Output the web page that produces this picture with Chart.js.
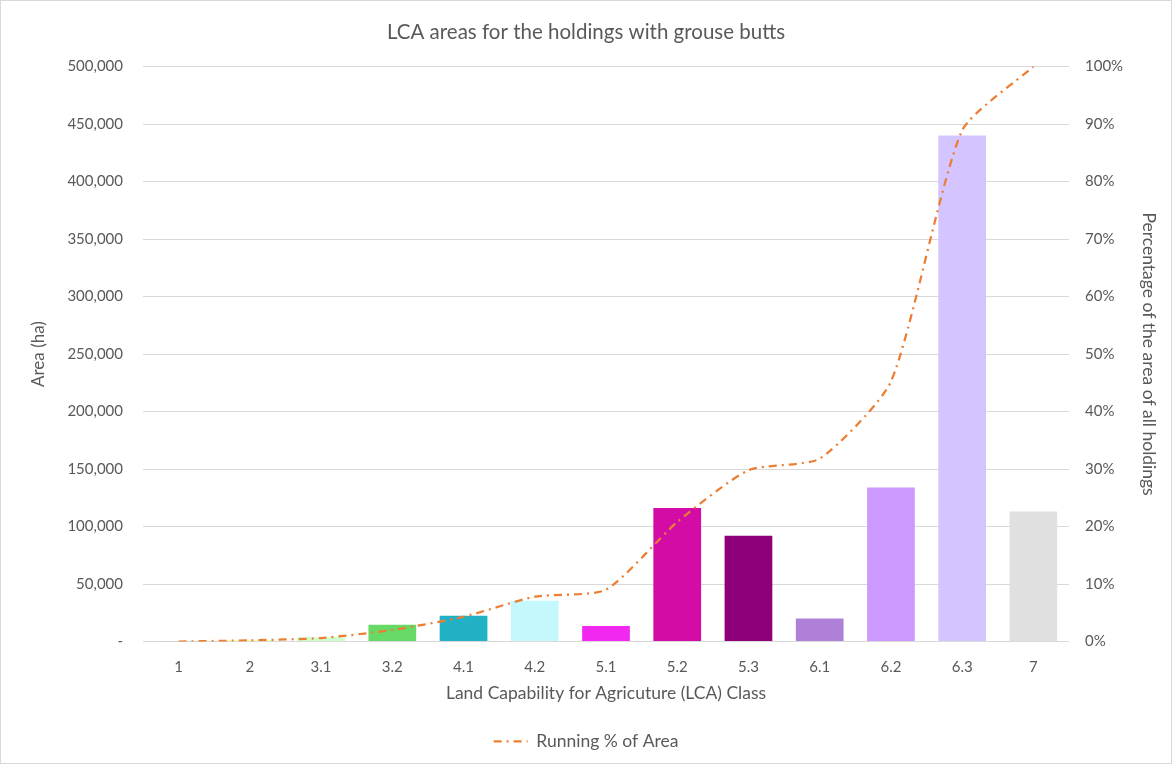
<!DOCTYPE html>
<html>
<head>
<meta charset="utf-8">
<script src="https://cdn.jsdelivr.net/npm/chart.js@4/dist/chart.umd.min.js"></script>
<style>
  html, body { margin: 0; padding: 0; background: #fff; }
  #wrap { width: 1172px; height: 764px; }
</style>
</head>
<body>
<div id="wrap"><canvas id="lcaChart" width="1172" height="764"></canvas></div>
<script>
// LCA classes on the x axis
const classes = ['1', '2', '3.1', '3.2', '4.1', '4.2', '5.1', '5.2', '5.3', '6.1', '6.2', '6.3', '7'];

// Area (ha) per class
const areas = [300, 1000, 3700, 14500, 22500, 35500, 13500, 116000, 92000, 20000, 134000, 440000, 113000];

// Running % of area
const runningPct = [0.0, 0.2, 0.6, 2.0, 4.3, 7.8, 9.0, 20.8, 29.8, 31.8, 45.2, 88.9, 100];

// One colour per class
const barColours = [
  '#BFBFBF', '#FFFF99', '#CCFFCC', '#66D966', '#22B0C4', '#C4F8FC', '#F028F0',
  '#D40CA6', '#8E007A', '#AE80D8', '#CC99FF', '#D4C4FF', '#E0E0E0'
];

const lineDash = [8, 5, 2, 5];
const textGrey = '#595959';
const font = 'Lato, "Noto Sans", sans-serif';

// white background and thin frame round the whole chart
const frame = {
  id: 'frame',
  beforeDraw(chart) {
    const c = chart.ctx;
    c.save();
    c.fillStyle = '#fff';
    c.fillRect(0, 0, chart.width, chart.height);
    c.strokeStyle = '#D9D9D9';
    c.lineWidth = 1;
    c.strokeRect(0.5, 0.5, chart.width - 1, chart.height - 1);
    c.restore();
  }
};

const ctx = document.getElementById('lcaChart').getContext('2d');

new Chart(ctx, {
  data: {
    labels: classes,
    datasets: [
      {
        type: 'line',
        label: 'Running % of Area',
        data: runningPct,
        yAxisID: 'y1',
        borderColor: '#ED7D31',
        backgroundColor: '#ED7D31',
        borderWidth: 2.25,
        borderDash: lineDash,
        pointRadius: 0,
        tension: 0.2,
        fill: false,
        order: 0
      },
      {
        type: 'bar',
        label: 'Area',
        data: areas,
        yAxisID: 'y',
        backgroundColor: barColours,
        categoryPercentage: 1,
        barPercentage: 0.67,
        order: 1
      }
    ]
  },
  options: {
    responsive: false,
    animation: false,
    layout: { padding: { top: 0, left: 0, right: 0, bottom: 4 } },
    plugins: {
      title: {
        display: true,
        text: 'LCA areas for the holdings with grouse butts',
        color: textGrey,
        font: { family: font, size: 20.5, weight: 'normal' },
        padding: { top: 20, bottom: 22 }
      },
      legend: {
        position: 'bottom',
        labels: {
          color: textGrey,
          font: { family: font, size: 17.5 },
          usePointStyle: true,
          pointStyle: 'line',
          pointStyleWidth: 34,
          padding: 10,
          generateLabels(chart) {
            const items = Chart.defaults.plugins.legend.labels.generateLabels(chart);
            return items
              .filter(it => it.text === 'Running % of Area')
              .map(it => Object.assign(it, { lineDash: lineDash, lineWidth: 2.25 }));
          }
        }
      },
      tooltip: { enabled: false }
    },
    scales: {
      x: {
        grid: { display: false, drawTicks: false },
        border: { display: false },
        ticks: { color: textGrey, font: { family: font, size: 15 }, padding: 17 },
        title: {
          display: true,
          text: 'Land Capability for Agricuture (LCA) Class',
          color: textGrey,
          font: { family: font, size: 17.5 },
          padding: { top: 0, bottom: 19 }
        },
        afterFit(scale) { scale.height = 81; }
      },
      y: {
        position: 'left',
        min: 0,
        max: 500000,
        ticks: {
          stepSize: 50000,
          color: textGrey,
          font: { family: font, size: 15 },
          padding: 20,
          callback: v => v === 0 ? '-' : v.toLocaleString('en-GB')
        },
        grid: { color: '#D9D9D9', lineWidth: 1, drawTicks: false },
        border: { display: false },
        title: {
          display: true,
          text: 'Area (ha)',
          color: textGrey,
          font: { family: font, size: 17 },
          padding: { top: 28, bottom: 0 }
        },
        afterFit(scale) { scale.width = 143; }
      },
      y1: {
        position: 'right',
        min: 0,
        max: 100,
        ticks: {
          stepSize: 10,
          color: textGrey,
          font: { family: font, size: 15 },
          padding: 16,
          callback: v => v + '%'
        },
        grid: { display: false, drawTicks: false },
        border: { display: false },
        title: {
          display: true,
          text: 'Percentage of the area of all holdings',
          color: textGrey,
          font: { family: font, size: 17.5 },
          padding: { top: 13, bottom: 0 }
        },
        afterFit(scale) { scale.width = 103; }
      }
    }
  },
  plugins: [frame]
});
</script>
</body>
</html>
